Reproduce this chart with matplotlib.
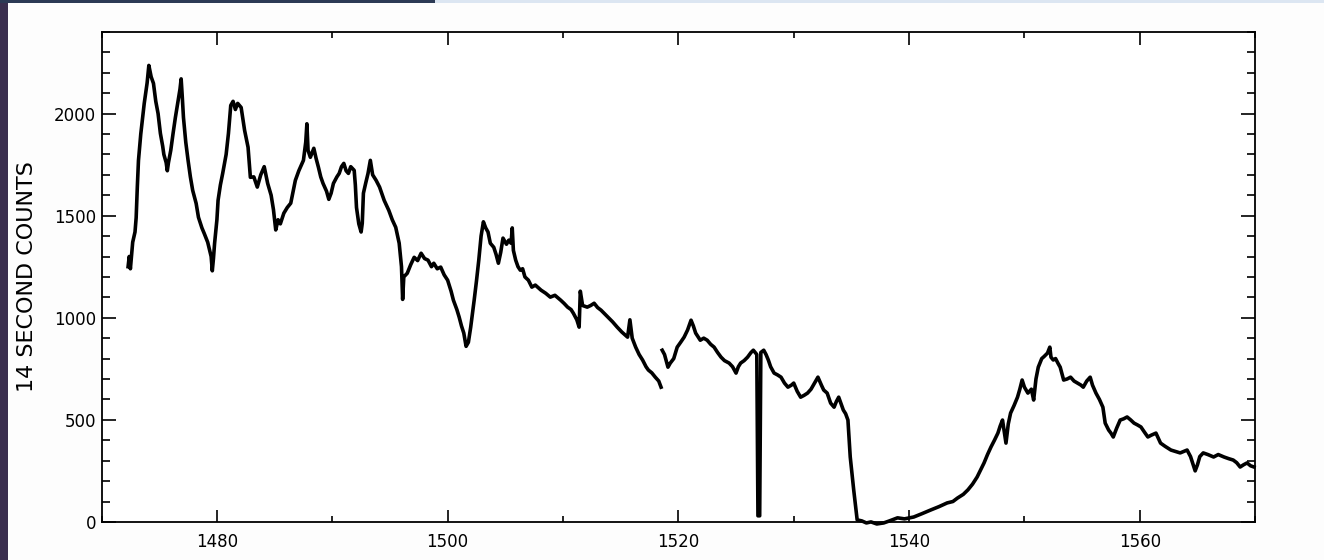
import matplotlib
matplotlib.use('Agg')
import matplotlib.pyplot as plt
import numpy as np
from matplotlib.patches import Rectangle
from matplotlib.ticker import MultipleLocator

# light curve, 14 s bins (time in days, counts per bin); nan marks the data gap
time = [
    1472.3, 1472.4, 1472.5, 1472.7, 1472.9, 1473.0, 1473.1, 1473.2, 1473.4, 1473.6,
    1473.7, 1473.95, 1474.1, 1474.3, 1474.5, 1474.7, 1474.9, 1475.1, 1475.3, 1475.4,
    1475.6, 1475.7, 1475.8, 1476.0, 1476.2, 1476.4, 1476.6, 1476.8, 1476.9, 1477.0,
    1477.1, 1477.3, 1477.5, 1477.7, 1477.9, 1478.2, 1478.4, 1478.7, 1478.9, 1479.2,
    1479.5, 1479.6, 1479.7, 1479.8, 1480.0, 1480.1, 1480.3, 1480.5, 1480.8, 1481.0,
    1481.2, 1481.4, 1481.6, 1481.8, 1482.1, 1482.4, 1482.7, 1482.9, 1483.2, 1483.5,
    1483.8, 1484.1, 1484.4, 1484.7, 1484.9, 1485.1, 1485.3, 1485.5, 1485.8, 1486.1,
    1486.4, 1486.8, 1487.1, 1487.5, 1487.7, 1487.8, 1487.9, 1488.1, 1488.4, 1488.6,
    1488.8, 1489.0, 1489.2, 1489.5, 1489.7, 1489.9, 1490.1, 1490.4, 1490.6, 1490.8,
    1491.0, 1491.2, 1491.4, 1491.6, 1491.9, 1492.0, 1492.1, 1492.3, 1492.5, 1492.6,
    1492.7, 1492.9, 1493.1, 1493.3, 1493.5, 1493.8, 1494.1, 1494.5, 1494.9, 1495.2,
    1495.5, 1495.8, 1496.0, 1496.1, 1496.2, 1496.5, 1496.8, 1497.1, 1497.4, 1497.7,
    1498.0, 1498.3, 1498.6, 1498.8, 1499.1, 1499.4, 1499.7, 1500.0, 1500.3, 1500.5,
    1500.8, 1501.0, 1501.2, 1501.4, 1501.6, 1501.8, 1502.0, 1502.3, 1502.5, 1502.7,
    1502.9, 1503.1, 1503.3, 1503.5, 1503.7, 1504.0, 1504.2, 1504.4, 1504.6, 1504.8,
    1505.1, 1505.3, 1505.5, 1505.6, 1505.7, 1505.9, 1506.1, 1506.3, 1506.5, 1506.7,
    1507.0, 1507.3, 1507.6, 1508.1, 1508.5, 1508.9, 1509.3, 1509.8, 1510.1, 1510.4,
    1510.7, 1510.9, 1511.2, 1511.4, 1511.5, 1511.7, 1512.1, 1512.4, 1512.7, 1513.0,
    1513.3, 1513.6, 1513.9, 1514.3, 1514.7, 1515.1, 1515.6, 1515.8, 1516.0, 1516.3,
    1516.6, 1516.9, 1517.2, 1517.4, 1517.7, 1518.0, 1518.3, 1518.5, 1518.55, 1518.6,
    1518.8, 1519.1, 1519.3, 1519.6, 1519.9, 1520.2, 1520.5, 1520.8, 1521.1, 1521.3,
    1521.5, 1521.9, 1522.2, 1522.5, 1522.8, 1523.1, 1523.4, 1523.7, 1524.0, 1524.4,
    1524.7, 1525.0, 1525.2, 1525.4, 1525.7, 1526.0, 1526.3, 1526.5, 1526.8, 1526.9,
    1527.05, 1527.15, 1527.4, 1527.6, 1527.8, 1528.0, 1528.3, 1528.6, 1528.9, 1529.2,
    1529.5, 1529.8, 1530.0, 1530.3, 1530.6, 1530.9, 1531.2, 1531.5, 1531.8, 1532.1,
    1532.4, 1532.6, 1532.9, 1533.2, 1533.5, 1533.7, 1533.9, 1534.1, 1534.3, 1534.5,
    1534.7, 1534.9, 1535.2, 1535.5, 1535.9, 1536.3, 1536.7, 1537.2, 1537.8, 1538.3,
    1539.0, 1539.6, 1540.4, 1541.1, 1541.9, 1542.6, 1543.3, 1543.8, 1544.2, 1544.7,
    1545.1, 1545.5, 1545.9, 1546.2, 1546.5, 1546.8, 1547.1, 1547.4, 1547.7, 1547.9,
    1548.1, 1548.4, 1548.6, 1548.8, 1549.1, 1549.4, 1549.6, 1549.8, 1550.0, 1550.3,
    1550.6, 1550.8, 1551.0, 1551.2, 1551.5, 1551.7, 1552.0, 1552.2, 1552.3, 1552.5,
    1552.7, 1552.9, 1553.1, 1553.4, 1553.7, 1554.0, 1554.3, 1554.6, 1554.9, 1555.1,
    1555.4, 1555.7, 1555.9, 1556.2, 1556.5, 1556.8, 1557.0, 1557.3, 1557.5, 1557.7,
    1558.0, 1558.3, 1558.6, 1558.9, 1559.2, 1559.5, 1559.8, 1560.1, 1560.4, 1560.7,
    1561.0, 1561.4, 1561.6, 1561.8, 1562.2, 1562.7, 1563.1, 1563.5, 1563.8, 1564.1,
    1564.4, 1564.8, 1565.0, 1565.2, 1565.5, 1565.9, 1566.4, 1566.8, 1567.3, 1567.7,
    1568.1, 1568.4, 1568.7, 1569.0, 1569.3, 1569.6, 1569.9,
]
counts = [
    1250, 1300, 1240, 1370, 1420, 1490, 1640, 1770, 1900, 2000,
    2050, 2150, 2236, 2180, 2148, 2060, 2000, 1903, 1840, 1800,
    1760, 1720, 1760, 1820, 1903, 1981, 2050, 2120, 2170, 2080,
    1981, 1860, 1771, 1690, 1624, 1560, 1492, 1440, 1413, 1370,
    1300, 1230, 1290, 1365, 1480, 1575, 1650, 1707, 1800, 1903,
    2040, 2060, 2020, 2050, 2030, 1918, 1835, 1688, 1690, 1640,
    1700, 1740, 1658, 1600, 1530, 1430, 1480, 1460, 1512, 1540,
    1561, 1673, 1720, 1771, 1860, 1950, 1820, 1786, 1830, 1780,
    1737, 1690, 1658, 1620, 1580, 1610, 1658, 1690, 1707, 1740,
    1756, 1720, 1707, 1740, 1722, 1650, 1540, 1460, 1420, 1463,
    1610, 1660, 1707, 1771, 1700, 1673, 1640, 1575, 1526, 1480,
    1443, 1365, 1250, 1090, 1200, 1218, 1260, 1296, 1280, 1316,
    1290, 1282, 1250, 1267, 1240, 1248, 1210, 1184, 1130, 1086,
    1040, 1003, 960, 925, 860, 880, 954, 1086, 1180, 1282,
    1400, 1470, 1440, 1420, 1365, 1345, 1310, 1267, 1320, 1390,
    1360, 1380, 1365, 1440, 1330, 1282, 1250, 1233, 1240, 1200,
    1184, 1150, 1160, 1135, 1120, 1101, 1110, 1086, 1070, 1052,
    1040, 1022, 990, 954, 1130, 1060, 1052, 1060, 1071, 1050,
    1037, 1020, 1003, 980, 954, 930, 905, 990, 900, 856,
    820, 793, 760, 744, 730, 709, 690, 660, np.nan, 841,
    820, 758, 778, 800, 856, 880, 905, 940, 988, 960,
    925, 890, 900, 890, 870, 856, 830, 807, 790, 778,
    760, 729, 760, 778, 790, 807, 830, 841, 820, 30,
    30, 830, 841, 820, 793, 760, 729, 720, 709, 680,
    660, 670, 680, 640, 611, 620, 631, 650, 680, 709,
    670, 646, 631, 582, 562, 590, 611, 580, 548, 530,
    499, 318, 157, 10, 5, -5, 0, -10, -5, 5,
    20, 15, 24, 40, 59, 75, 93, 100, 117, 135,
    157, 185, 220, 255, 289, 330, 367, 400, 435, 470,
    499, 386, 480, 533, 570, 611, 650, 695, 660, 631,
    650, 597, 700, 758, 800, 810, 827, 856, 807, 793,
    800, 778, 758, 695, 700, 709, 690, 680, 670, 660,
    690, 709, 670, 631, 600, 562, 484, 450, 435, 416,
    460, 499, 505, 514, 500, 484, 475, 465, 440, 416,
    425, 435, 410, 386, 370, 352, 345, 338, 345, 352,
    320, 250, 280, 320, 338, 330, 318, 330, 318, 310,
    303, 290, 269, 280, 289, 275, 269,
]

x_major = [1480, 1500, 1520, 1540, 1560]
y_major = [0, 500, 1000, 1500, 2000]

plt.rcParams['font.family'] = ['DejaVu Sans']

fig = plt.figure(figsize=(13.24, 5.6), dpi=100)
fig.patch.set_facecolor('#fdfdfd')

# strips of the surrounding page along the top and left edge
fig.patches.append(Rectangle((0, 0), 8 / 1324, 1, transform=fig.transFigure,
                             facecolor='#3a2f4f', edgecolor='none', zorder=0))
fig.patches.append(Rectangle((0, 1 - 3 / 560), 435 / 1324, 3 / 560, transform=fig.transFigure,
                             facecolor='#2c3a55', edgecolor='none', zorder=0))
fig.patches.append(Rectangle((435 / 1324, 1 - 3 / 560), 1 - 435 / 1324, 3 / 560,
                             transform=fig.transFigure,
                             facecolor='#dce6f2', edgecolor='none', zorder=0))

ax = fig.add_axes([0.0767, 0.068, 0.8713, 0.875])
ax.set_facecolor('white')
ax.plot(time, counts, color='black', linewidth=2.6, clip_on=False)

ax.set_xlim(1470, 1570)
ax.set_ylim(0, 2400)
ax.set_xticks(x_major)
ax.set_yticks(y_major)
ax.xaxis.set_minor_locator(MultipleLocator(10))
ax.yaxis.set_minor_locator(MultipleLocator(100))

ax.tick_params(axis='both', which='both', direction='in', top=True, right=True,
               width=1.2, colors='black', labelsize=12)
ax.tick_params(axis='y', which='major', length=10, pad=4)
ax.tick_params(axis='y', which='minor', length=6)
ax.tick_params(axis='x', which='major', length=9, pad=8)
ax.tick_params(axis='x', which='minor', length=4)

for spine in ax.spines.values():
    spine.set_linewidth(1.3)

ax.set_ylabel('14 SECOND COUNTS', fontsize=16, labelpad=12)

fig.savefig('out.png', dpi=100)
